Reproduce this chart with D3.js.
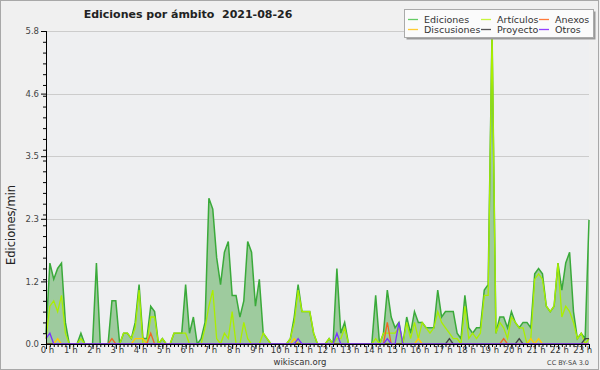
<!DOCTYPE html>
<html>
<head>
<meta charset="utf-8">
<script src="https://cdn.jsdelivr.net/npm/d3@7"></script>
<style>
body { margin: 0; background: #f0f0f0; }
text { font-family: "DejaVu Sans", sans-serif; }
</style>
</head>
<body>
<svg id="chart" width="600" height="370"></svg>
<script>
// Chart data: one value every 10 minutes, starting at 0 h
var title = "Ediciones por ámbito  2021-08-26";
var yLabel = "Ediciones/min";
var stepMinutes = 10;

var ediciones = [0.2,1.5,1.2,1.4,1.5,0.4,0,0,0,0.2, 0,0,0,1.5,0,0,0,0.8,0.8,0,
    0.2,0.2,0.1,0.4,1.1,0.1,0.1,0.7,0.6,0, 0.1,0,0,0.2,0.2,0.2,1.1,0.2,0.5,0,
    0.1,0.4,2.7,2.5,1.6,1.1,1.7,1.9,0.9,0.9, 0.5,0.8,1.9,1.7,0.7,1.2,0.2,0.1,0,0,
    0,0,0,0.1,0.5,1.1,0.6,0.6,0.6,0.2, 0,0,0,0.1,0,1.4,0.2,0.4,0,0,
    0,0,0,0,0,0.9,0,0.2,1.0,0.5, 0.3,0.4,0,0.5,0.2,0.6,0.4,0.4,0.3,0.3,
    0.3,1.0,0.5,0.6,0.6,0.6,0.2,0.1,0.9,0.3, 0.2,0.3,0.3,1.0,1.1,5.8,0.2,0.5,0.5,0.3,
    0.6,0.4,0.3,0.4,0.4,0.3,1.3,1.4,1.3,0.7, 0.6,0.7,1.5,1.0,1.5,1.7,0.6,0.1,0.2,0.1,
    2.3];
var articulos = [0.1,0.7,0.8,0.6,0.9,0.2,0,0,0,0.1, 0,0,0,0,0,0,0,0,0,0,
    0.2,0.2,0.1,0.3,1.0,0,0,0.5,0.5,0, 0.1,0,0,0.2,0.2,0.2,0.2,0,0,0,
    0,0.3,0.7,1.0,0.1,0,0.2,0.1,0.6,0, 0,0.4,0.1,0,0,0,0.2,0.1,0,0,
    0,0,0,0.1,0.4,1.0,0.6,0.6,0.6,0.2, 0,0,0,0.1,0,0.1,0.1,0.3,0,0,
    0,0,0,0,0,0.1,0,0.2,0.2,0.2, 0.2,0.3,0,0.4,0.1,0.4,0.1,0.4,0.3,0.2,
    0.3,0.6,0.4,0.3,0.2,0.1,0.1,0,0.7,0.1, 0.2,0.1,0.2,0.9,0.9,5.8,0.2,0.4,0.3,0.1,
    0.5,0.4,0.3,0.3,0,0.1,1.2,1.3,1.2,0.7, 0.6,0.7,1.5,0.5,0.7,0.6,0.4,0.1,0.2,0,
    0.1];
// sparse series: [point index, value]
var anexos = [[17,0.1],[27,0.2],[88,0.4],[118,0.1]];
var discusiones = [[3,0.1],[23,0.1],[24,0.1],[25,0.1],[64,0.1],[96,0.1],[125,0.1],[127,0.1]];
var proyecto = [[104,0.1],[122,0.1],[139,0.1],[140,0.1]];
var otros = [[0,0.1],[1,0.2],[65,0.1],[75,0.2],[88,0.1],[91,0.4]];

var legendNames = ["Ediciones","Artículos","Anexos","Discusiones","Proyecto","Otros"];
var legendColors = ["#66cc66","#c8f53c","#ff7a3a","#ffcc33","#555555","#9340ff"];

var w = 600, h = 370;
var margin = {top: 31, right: 11, bottom: 26, left: 46};

var svg = d3.select("#chart");

// expand a sparse series to the full length
function expand(sparse) {
    var full = ediciones.map(function() { return 0; });
    sparse.forEach(function(p) { full[p[0]] = p[1]; });
    return full;
}

var series = [
    {name: "Artículos", values: articulos, color: "#aaee00"},
    {name: "Discusiones", values: expand(discusiones), color: "#ffcc00"},
    {name: "Anexos", values: expand(anexos), color: "#f26522"},
    {name: "Proyecto", values: expand(proyecto), color: "#444444"},
    {name: "Otros", values: expand(otros), color: "#7a33ff"}
];

var lastHour = (ediciones.length - 1) * stepMinutes / 60;
var yMax = d3.max(ediciones);

var xScale = d3.scaleLinear()
    .domain([0, lastHour])
    .range([margin.left, w - margin.right]);

var yScale = d3.scaleLinear()
    .domain([0, yMax])
    .range([h - margin.bottom, margin.top]);

// Backgrounds
svg.append("rect")
    .attr("x", 0.5).attr("y", 0.5)
    .attr("width", w - 2).attr("height", h - 1)
    .attr("fill", "#f0f0f0")
    .attr("stroke", "#a8a8a8");

svg.append("rect")
    .attr("x", margin.left).attr("y", margin.top)
    .attr("width", w - margin.left - margin.right)
    .attr("height", h - margin.top - margin.bottom)
    .attr("fill", "#eeeff1");

// Gridlines
var majorY = d3.range(0, 6).map(function(k) { return k * yMax / 5; });

svg.append("g")
    .selectAll("line")
    .data(majorY.slice(1))
    .enter()
    .append("line")
    .attr("x1", margin.left)
    .attr("x2", w - margin.right)
    .attr("y1", function(d) { return Math.round(yScale(d)) + 0.5; })
    .attr("y2", function(d) { return Math.round(yScale(d)) + 0.5; })
    .attr("stroke", "#cccccc");

function xOf(d, i) { return xScale(i * stepMinutes / 60); }

// Ediciones area + line
var area = d3.area()
    .x(xOf)
    .y0(yScale(0))
    .y1(function(d) { return yScale(d); });

var line = d3.line()
    .x(xOf)
    .y(function(d) { return yScale(d); });

svg.append("path")
    .attr("d", area(ediciones))
    .attr("fill", "#9ecb9e");

svg.append("path")
    .attr("d", line(ediciones))
    .attr("fill", "none")
    .attr("stroke", "#3aaa3a")
    .attr("stroke-width", 1.5);

// Other series drawn on top
svg.append("g")
    .selectAll("path")
    .data(series)
    .enter()
    .append("path")
    .attr("d", function(d) { return line(d.values); })
    .attr("fill", "none")
    .attr("stroke", function(d) { return d.color; })
    .attr("stroke-width", 1.3);

//Axes
var xAxis = d3.axisBottom(xScale)
    .tickValues(d3.range(0, Math.floor(lastHour) + 1))
    .tickSize(5)
    .tickFormat(function(d) { return d + " h"; });

var xMinor = d3.axisBottom(xScale)
    .tickValues(ediciones.map(function(d, i) { return i * stepMinutes / 60; }))
    .tickSize(3)
    .tickFormat("");

var yAxis = d3.axisLeft(yScale)
    .tickValues(majorY)
    .tickSize(5)
    .tickFormat(d3.format(".1f"));

var yMinor = d3.axisLeft(yScale)
    .tickValues(d3.range(0, yMax + 0.01, 0.2))
    .tickSize(3)
    .tickFormat("");

svg.append("g")
    .attr("class", "x minor")
    .attr("transform", "translate(0," + (h - margin.bottom) + ")")
    .call(xMinor);

svg.append("g")
    .attr("class", "x axis")
    .attr("transform", "translate(0," + (h - margin.bottom) + ")")
    .call(xAxis);

svg.append("g")
    .attr("class", "y minor")
    .attr("transform", "translate(" + margin.left + ",0)")
    .call(yMinor);

svg.append("g")
    .attr("class", "y axis")
    .attr("transform", "translate(" + margin.left + ",0)")
    .call(yAxis);

svg.selectAll(".domain").attr("stroke", "#000");
svg.selectAll(".tick line").attr("stroke", "#000");
svg.selectAll(".x.axis text")
    .attr("font-size", "8.5px")
    .attr("fill", "#333")
    .attr("y", 9)
    .attr("dx", "1px")
    .attr("dy", "0");
svg.selectAll(".y.axis text")
    .attr("font-size", "8.5px")
    .attr("fill", "#444")
    .attr("dx", "1px");

// Texts
svg.append("text")
    .attr("x", 188)
    .attr("y", 18)
    .attr("text-anchor", "middle")
    .attr("font-size", "11px")
    .attr("font-weight", "bold")
    .attr("fill", "#222")
    .attr("xml:space", "preserve")
    .text(title);

svg.append("text")
    .attr("transform", "translate(15,225) rotate(-90)")
    .attr("text-anchor", "middle")
    .attr("font-family", "DejaVu Sans Mono, monospace")
    .attr("font-size", "11.5px")
    .attr("fill", "#222")
    .text(yLabel);

svg.append("text")
    .attr("x", 300)
    .attr("y", 365)
    .attr("text-anchor", "middle")
    .attr("font-size", "8.5px")
    .attr("fill", "#333")
    .text("wikiscan.org");

svg.append("text")
    .attr("x", 589)
    .attr("y", 365)
    .attr("text-anchor", "end")
    .attr("font-size", "6.5px")
    .attr("fill", "#444")
    .text("CC BY-SA 3.0");

// Legend
var legend = svg.append("g").attr("transform", "translate(404,9)");

legend.append("rect")
    .attr("x", 2.5).attr("y", 2.5)
    .attr("width", 189).attr("height", 28)
    .attr("fill", "#999");

legend.append("rect")
    .attr("x", 0.5).attr("y", 0.5)
    .attr("width", 189).attr("height", 28)
    .attr("fill", "#fbfbfb")
    .attr("stroke", "#aaa");

var colX = [4, 77, 135];

var items = legend.selectAll("g.item")
    .data(legendNames)
    .enter()
    .append("g")
    .attr("class", "item")
    .attr("transform", function(d, i) {
        return "translate(" + colX[i % 3] + "," + (10 + Math.floor(i / 3) * 10) + ")";
    });

items.append("line")
    .attr("x1", 0).attr("x2", 10)
    .attr("y1", 0.5).attr("y2", 0.5)
    .attr("stroke-width", 1.3)
    .attr("stroke", function(d, i) { return legendColors[i]; });

items.append("text")
    .attr("x", 16)
    .attr("y", 3.5)
    .attr("font-size", "9.5px")
    .attr("fill", "#333")
    .text(function(d) { return d; });
</script>
</body>
</html>
